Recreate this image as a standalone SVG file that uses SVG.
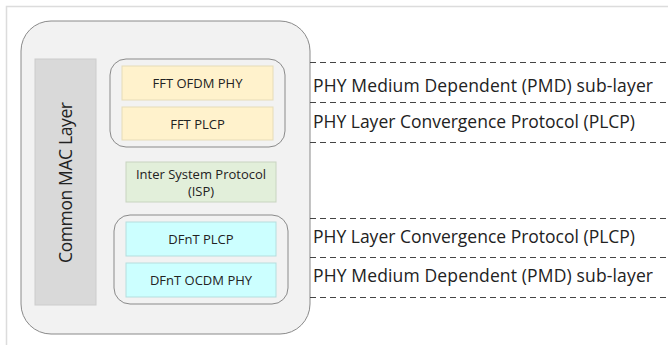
<svg xmlns="http://www.w3.org/2000/svg" width="668" height="345" viewBox="0 0 668 345">
<style>
.t{font-family:"Open Sans","Liberation Sans",sans-serif;fill:#222}
.s{font-size:13px}
.l{font-size:17.5px}
.grp{fill:#f2f2f2;stroke:#8a8a8a;stroke-width:1}
.dash{stroke:#444;stroke-width:1;stroke-dasharray:6 4;fill:none}
</style>
<rect width="668" height="345" fill="#fff"/>
<path d="M6.5 345 V6.5 H668" fill="none" stroke="#dcdcdc" stroke-width="1.5"/>
<g id="outer">
<rect x="21" y="21" width="289" height="313" rx="30" fill="#f2f2f2" stroke="#8a8a8a" stroke-width="1"/>
</g>
<g id="mac">
<rect x="35" y="59" width="61" height="246" fill="#d9d9d9" stroke="#cccccc"/>
<text class="t" font-size="17.5" transform="translate(72,182.5) rotate(-90)" text-anchor="middle" textLength="161">Common MAC Layer</text>
</g>
<g id="fft-group">
<rect class="grp" x="110" y="59" width="175" height="88" rx="16"/>
</g>
<g id="fft-ofdm-phy">
<rect x="122" y="66" width="151" height="34" fill="#fff2cc" stroke="#e6dcb8"/>
<text class="t s" x="197.5" y="88" text-anchor="middle">FFT OFDM PHY</text>
</g>
<g id="fft-plcp">
<rect x="122" y="107" width="151" height="33" fill="#fff2cc" stroke="#e6dcb8"/>
<text class="t s" x="197.5" y="128.5" text-anchor="middle">FFT PLCP</text>
</g>
<g id="isp">
<rect x="126" y="162" width="150" height="40" fill="#e2efda" stroke="#c8d4c0"/>
<text class="t s" x="201" y="178.5" text-anchor="middle">Inter System Protocol</text>
<text class="t s" x="201" y="195.5" text-anchor="middle">(ISP)</text>
</g>
<g id="dfnt-group">
<rect class="grp" x="114" y="215" width="174" height="89" rx="16"/>
</g>
<g id="dfnt-plcp">
<rect x="126" y="222" width="150" height="34" fill="#ccffff" stroke="#b5dede"/>
<text class="t s" x="201" y="244" text-anchor="middle">DFnT PLCP</text>
</g>
<g id="dfnt-ocdm-phy">
<rect x="126" y="263" width="150" height="34" fill="#ccffff" stroke="#b5dede"/>
<text class="t s" x="201" y="285" text-anchor="middle">DFnT OCDM PHY</text>
</g>
<g id="connectors">
<line class="dash" x1="310" y1="62.5" x2="668" y2="62.5"/>
<line class="dash" x1="310" y1="102.5" x2="668" y2="102.5"/>
<line class="dash" x1="310" y1="142.5" x2="668" y2="142.5"/>
<line class="dash" x1="310" y1="218.5" x2="668" y2="218.5"/>
<line class="dash" x1="310" y1="257.5" x2="668" y2="257.5"/>
<line class="dash" x1="310" y1="297.5" x2="668" y2="297.5"/>
</g>
<g id="labels">
<text class="t l" x="313" y="91.5" textLength="340">PHY Medium Dependent (PMD) sub-layer</text>
<text class="t l" x="313" y="128" textLength="322">PHY Layer Convergence Protocol (PLCP)</text>
<text class="t l" x="313" y="242.5" textLength="322">PHY Layer Convergence Protocol (PLCP)</text>
<text class="t l" x="313" y="281.5" textLength="340">PHY Medium Dependent (PMD) sub-layer</text>
</g>
</svg>
